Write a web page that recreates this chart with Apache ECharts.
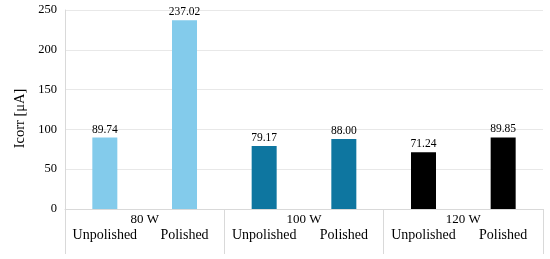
<!DOCTYPE html>
<html>
<head>
<meta charset="utf-8">
<script src="https://cdn.jsdelivr.net/npm/echarts@6/dist/echarts.min.js"></script>
<style>html,body{margin:0;padding:0;background:#fff}#c{width:550px;height:259px}</style>
</head>
<body>
<div id="c"></div>
<script>
const categories = ['Unpolished', 'Polished', 'Unpolished', 'Polished', 'Unpolished', 'Polished'];
const groups = ['80 W', '100 W', '120 W'];
const values = [89.74, 237.02, 79.17, 88.00, 71.24, 89.85];
const yTicks = [0, 50, 100, 150, 200, 250];

const barColors = ['#83CBEB', '#83CBEB', '#0E76A0', '#0E76A0', '#000000', '#000000'];
const font = '"Liberation Serif", "DejaVu Serif", serif';

const chart = echarts.init(document.getElementById('c'), null, {renderer: 'canvas'});
chart.setOption({
  animation: false,
  grid: {left: 65, right: 7, top: 10, bottom: 50},
  xAxis: [
    {
      type: 'category',
      data: categories,
      position: 'bottom',
      offset: 0,
      axisLine: {show: true, lineStyle: {color: '#d9d9d9', width: 1}},
      axisTick: {show: false},
      axisLabel: {interval: 0, hideOverlap: false, margin: 19, fontFamily: font, fontSize: 14, color: '#000'}
    },
    {
      type: 'category',
      data: groups,
      position: 'bottom',
      offset: 0,
      axisLine: {show: false},
      axisTick: {show: true, length: 45, inside: false, lineStyle: {color: '#d9d9d9', width: 1}},
      axisLabel: {interval: 0, margin: 4, fontFamily: font, fontSize: 13, color: '#000'},
      splitLine: {show: false}
    }
  ],
  yAxis: {
    type: 'value',
    min: yTicks[0],
    max: yTicks[yTicks.length - 1],
    interval: 50,
    name: 'Icorr [μA]',
    nameLocation: 'middle',
    nameGap: 37,
    nameTextStyle: {fontFamily: font, fontSize: 14.5, color: '#000', padding: [0, 18, 0, 0]},
    axisLine: {show: true, lineStyle: {color: '#d9d9d9'}},
    axisTick: {show: false},
    axisLabel: {margin: 8, fontFamily: font, fontSize: 12.5, color: '#000'},
    splitLine: {show: true, lineStyle: {color: '#e8e8e8'}}
  },
  series: [{
    type: 'bar',
    xAxisIndex: 0,
    barWidth: 25,
    data: values.map((v, i) => ({value: v, itemStyle: {color: barColors[i]}})),
    label: {
      show: true,
      position: 'top',
      distance: 2,
      fontFamily: font,
      fontSize: 11.5,
      color: '#000',
      formatter: p => p.value.toFixed(2)
    }
  }]
});
</script>
</body>
</html>
